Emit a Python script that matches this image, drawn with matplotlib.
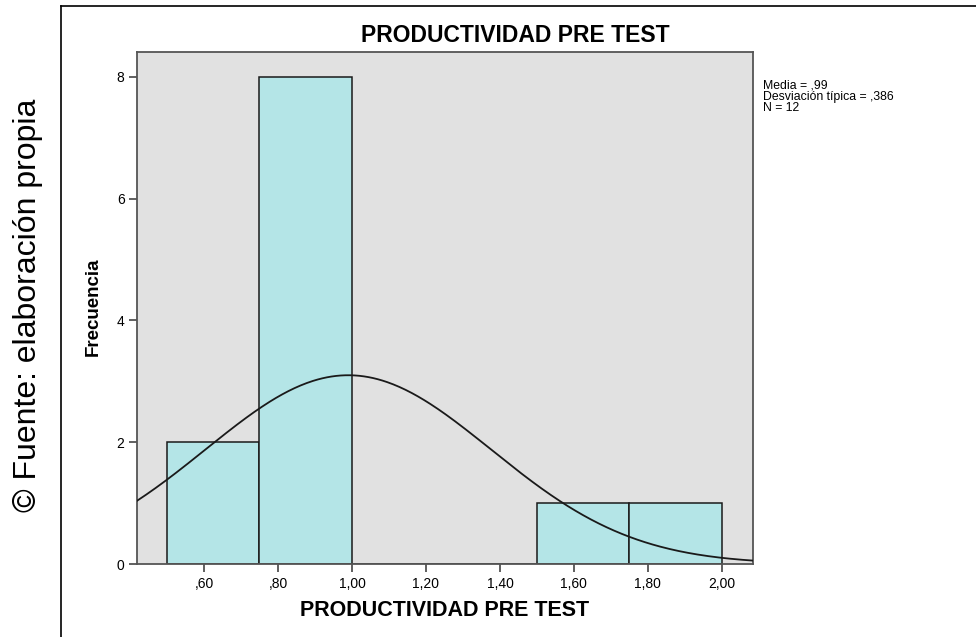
import matplotlib
matplotlib.use("Agg")
import matplotlib.pyplot as plt
import numpy as np
from matplotlib.lines import Line2D

# data
bin_edges = [0.50, 0.75, 1.00, 1.25, 1.50, 1.75, 2.00]
counts = [2, 8, 0, 0, 1, 1]
mean_val = 0.99
sd_val = 0.386
n_val = 12
x_ticks = [0.6, 0.8, 1.0, 1.2, 1.4, 1.6, 1.8, 2.0]
y_ticks = [0, 2, 4, 6, 8]
stats_lines = ["Media = ,99", "Desviación típica = ,386", "N = 12"]

plt.rcParams['font.family'] = ['Liberation Sans', 'DejaVu Sans']

def fmt_es(v):
    s = "%.2f" % v
    s = s.replace(".", ",")
    if s.startswith("0"):
        s = s[1:]
    return s

fig = plt.figure(figsize=(9.76, 6.37), dpi=100)
ax = fig.add_axes([137/976, 1 - 564/637, 616/976, 512/637])
ax.set_facecolor('#E1E1E1')

width = bin_edges[1] - bin_edges[0]
ax.bar(bin_edges[:-1], counts, width=width, align='edge',
       color='#B4E5E7', edgecolor='#1a1a1a', linewidth=1.1, zorder=2)

# normal curve scaled to the histogram
xmin, xmax = 0.419, 2.084
xs = np.linspace(xmin, xmax, 400)
pdf = np.exp(-0.5 * ((xs - mean_val) / sd_val) ** 2) / (sd_val * np.sqrt(2 * np.pi))
ax.plot(xs, n_val * width * pdf, color='#1a1a1a', linewidth=1.3, zorder=3)

ax.set_xlim(xmin, xmax)
ax.set_ylim(0, 8.41)
ax.set_xticks(x_ticks)
ax.set_xticklabels([fmt_es(v) for v in x_ticks])
ax.set_yticks(y_ticks)
ax.tick_params(direction='out', length=6, width=1.2, color='#444444',
               labelsize=10, pad=3)
for sp in ax.spines.values():
    sp.set_color('#555555')
    sp.set_linewidth(1.3)

fig.text(515/976, 1 - 35/637, 'PRODUCTIVIDAD PRE TEST', ha='center', va='center',
         fontsize=16.5, weight='bold')
fig.text(445/976, 1 - 610/637, 'PRODUCTIVIDAD PRE TEST', ha='center', va='center',
         fontsize=15.5, weight='bold')
fig.text(93/976, 1 - 307/637, 'Frecuencia', ha='center', va='center',
         rotation=90, fontsize=13.5, weight='bold')

for i, line in enumerate(stats_lines):
    fig.text(763/976, 1 - (89 + 11 * i)/637, line, ha='left', va='baseline',
             fontsize=8.8)

fig.text(28/976, 1 - 305/637, '© Fuente: elaboración propia', ha='center',
         va='center', rotation=90, fontsize=23)

# outer frame of the original picture
fig.add_artist(Line2D([61/976, 61/976], [0, 1 - 6/637], transform=fig.transFigure,
                      color='black', linewidth=1.2))
fig.add_artist(Line2D([61/976, 1], [1 - 6/637, 1 - 6/637], transform=fig.transFigure,
                      color='black', linewidth=1.2))

fig.savefig('out.png', dpi=100)
